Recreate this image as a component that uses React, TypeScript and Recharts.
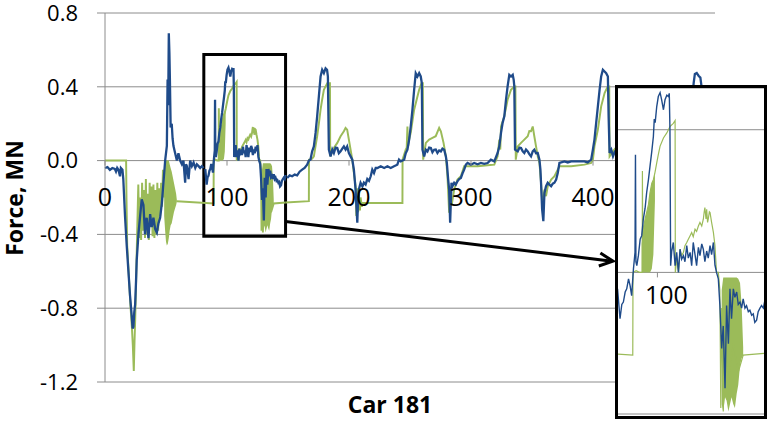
import { Area, CartesianGrid, ComposedChart, Line, ReferenceArea, ReferenceLine, XAxis, YAxis } from "recharts"

type Pt = [number, number]

// Car 181 – force (MN) against position
const blueRunIn: Pt[] = [
  [0, -0.04], [2, -0.035], [4, -0.05], [6, -0.04], [8, -0.045], [9, -0.06], [10, -0.04], [11, -0.05],
  [12.3, -0.085], [13, -0.04], [14.3, -0.05], [15, -0.1], [16.4, -0.3], [17.8, -0.46], [19.2, -0.6],
  [20.5, -0.73], [21.9, -0.84], [22.6, -0.91], [23.3, -0.9], [24, -0.82], [24.7, -0.78], [25.4, -0.66],
  [26, -0.54], [27.4, -0.4], [28.8, -0.3], [30.1, -0.21], [31.5, -0.24], [32.8, -0.4], [33.5, -0.33],
  [34.2, -0.31], [35.6, -0.42], [37, -0.29], [38.3, -0.36], [39.7, -0.31], [41.1, -0.37], [42.5, -0.39],
  [43.8, -0.34], [45.2, -0.31], [46.6, -0.23], [47.9, -0.12], [49.3, 0], [50.7, 0.08], [51.3, 0.44],
  [51.8, 0.3], [52.3, 0.69], [52.8, 0.58], [53.2, 0.44], [53.8, 0.18], [54.7, 0.2], [55.4, 0.12],
  [56.1, 0.08], [57.5, 0.04], [58.9, 0], [60.2, 0.04], [61.6, 0], [63, -0.02], [64.3, 0], [65.7, -0.12],
  [66.4, -0.02], [67.1, -0.03], [68.5, -0.1], [69.8, 0], [71.2, -0.03], [72.6, -0.01], [74, -0.04],
  [75.3, -0.02], [76.7, -0.03], [78, -0.04], [79.4, -0.03], [80.8, -0.04],
]

// the boxed stretch, read from the enlarged view
const blueBox: Pt[] = [
  [82.2, -0.046], [83.3, -0.13], [84.1, -0.09], [84.8, -0.083], [85.6, -0.055], [86.3, -0.046],
  [87.1, -0.018], [87.8, -0.037], [88.5, -0.065], [89.3, 0.01], [90.0, 0.056], [90.2, 0.33], [90.4, 0.03],
  [90.8, 0.019], [91.5, 0.047], [92.3, 0.093], [93.0, 0.103], [93.7, 0.149], [94.5, 0.18], [95.2, 0.224],
  [96.0, 0.26], [96.7, 0.298], [97.5, 0.34], [98.2, 0.381], [98.6, 0.43], [99.0, 0.42], [99.7, 0.465],
  [100.4, 0.493], [101.2, 0.504], [101.9, 0.484], [102.7, 0.456], [103.4, 0.484], [104.2, 0.497],
  [104.9, 0.493], [105.3, 0.502], [105.6, 0.4], [105.9, 0.019],
  [106.4, 0.06], [107.1, 0.084], [107.9, 0.019], [108.6, 0.056], [109.4, 0], [110.1, 0.065], [110.8, 0.037],
  [111.6, 0.047], [112.3, 0.03], [113.1, 0.075], [113.8, 0.04], [114.6, 0.056], [115.3, 0.019], [116.0, 0.084],
  [116.8, 0.05], [117.5, 0.019], [118.3, 0.07], [119.0, 0.047], [119.8, 0.08], [120.5, 0.065], [121.2, 0.03],
  [122.0, 0.06], [122.7, 0.04], [123.5, 0.075], [124.2, 0.05], [125.0, 0.084], [125.7, 0.02], [126.4, 0],
  [127.2, -0.018], [127.9, -0.093], [128.7, -0.213], [129.4, -0.15], [130.2, -0.325], [130.9, -0.093],
  [131.7, -0.2], [132.4, -0.046], [133.1, -0.13], [133.9, -0.046], [134.6, -0.07], [135.4, -0.055],
  [136.1, -0.09], [136.9, -0.083], [137.6, -0.1], [138.3, -0.074], [139.1, -0.1], [139.8, -0.093],
  [140.6, -0.11], [141.3, -0.106], [142.1, -0.12], [142.8, -0.116], [143.5, -0.14], [144.3, -0.134],
  [145.0, -0.11], [145.8, -0.1], [146.5, -0.093], [147.3, -0.1], [148.0, -0.078],
]

const blueCycles: Pt[] = [
  [149.3, -0.094], [151.4, -0.08], [153.4, -0.085], [155.5, -0.076], [157.5, -0.08], [159.5, -0.06],
  [161.6, -0.049], [163.6, -0.04], [165.7, -0.022], [167.1, 0], [168.4, 0.005], [169.8, 0.05], [171.2, 0.077],
  [172.6, 0.15], [173.9, 0.24], [175.3, 0.348], [176.7, 0.456], [178, 0.492], [179.4, 0.474], [180.8, 0.5],
  [182, 0.492], [182.7, 0.456], [183.5, 0.059], [184.9, 0.023], [186.3, 0.06], [187.6, 0.041], [189, 0.07],
  [190.4, 0.068], [191.7, 0.04], [193.1, 0.05], [194.5, 0.065], [195.8, 0.077], [197.2, 0.06], [198.5, 0.077],
  [199.9, 0.041], [201.3, 0.023], [202.7, 0.005], [204, -0.049], [205.4, -0.157], [206.8, -0.337],
  [207.5, -0.2], [208.1, -0.157], [209.5, -0.12], [211, -0.14], [212.2, -0.12], [213.6, -0.13], [215, -0.1],
  [216.4, -0.11], [217.8, -0.085], [219.1, -0.049], [220.5, -0.067], [221.9, -0.04], [223.3, -0.04],
  [226, -0.031], [228.8, -0.04], [231.5, -0.031], [234.2, -0.04], [236.9, -0.031], [239.6, -0.022],
  [241, 0.005], [242.4, -0.004], [245.2, 0.005], [246.5, 0.04], [247.9, 0.059], [249.3, 0.114],
  [250.6, 0.185], [252, 0.276], [253.4, 0.384], [254.7, 0.474], [256.1, 0.456], [257.5, 0.474],
  [258.8, 0.456], [259.7, 0.42], [260.2, 0.059], [261.6, 0.023], [263, 0.059], [264.3, 0.05], [265.7, 0.07],
  [267.1, 0.068], [268.4, 0.045], [269.8, 0.059], [271.1, 0.06], [272.5, 0.041], [273.9, 0.055],
  [275.3, 0.05], [276.6, 0.065], [278, 0.059], [279.4, 0.023], [280.2, -0.013], [281.3, -0.103],
  [282.1, -0.157], [282.9, -0.337], [284, -0.12], [284.8, -0.139], [286.2, -0.12], [287.5, -0.13],
  [288.9, -0.112], [290.3, -0.1], [291.7, -0.094], [293, -0.07], [294.4, -0.049], [295.8, -0.022],
  [297.2, -0.013], [299.9, -0.022], [302.6, -0.013], [305.4, -0.02], [308.1, -0.013], [310.8, -0.018],
  [313.6, -0.013], [316.3, 0.005], [319.1, -0.004], [321.8, 0.041], [323.2, 0.077], [324.6, 0.15],
  [325.9, 0.204], [327.3, 0.24], [328.7, 0.33], [330, 0.402], [331.4, 0.465], [332.8, 0.456], [334.2, 0.465],
  [335, 0.438], [335.5, 0.402], [336.1, 0.059], [338.3, 0.05], [339.7, 0.07], [341, 0.068], [342.4, 0.05],
  [343.7, 0.041], [345.1, 0.06], [346.5, 0.05], [347.8, 0.035], [349.2, 0.023], [350.6, 0.05], [351.9, 0.059],
  [353.3, 0.04], [354.7, 0.041], [356.1, 0.005], [356.9, -0.049], [357.4, -0.12], [358.3, -0.265],
  [359.3, -0.328], [360.2, -0.175], [361.5, -0.139], [362.9, -0.12], [364.3, -0.13], [365.7, -0.139],
  [367, -0.125], [368.4, -0.12], [369.8, -0.103], [371.1, -0.067], [372.5, -0.013], [376.6, -0.004],
  [379.3, -0.01], [382.1, -0.004], [387.6, -0.004], [393, -0.004], [395.7, -0.01], [398.5, 0.005],
  [399.9, 0.059], [401.2, 0.114], [402.6, 0.204], [404, 0.294], [405.4, 0.384], [406.7, 0.456],
  [408.1, 0.492], [409.5, 0.483], [410.8, 0.474], [412.2, 0.456], [412.8, 0.24], [413.6, 0.041],
  [415, 0.059], [416.4, 0.023], [418, 0.05], [421, 0.06], [424, 0.04], [427, 0.07], [430, 0.05], [432, 0],
  [433.5, -0.3], [435, -0.14], [438, -0.12], [442, -0.1], [446, -0.02], [450, 0], [460, 0], [470, 0],
  [476, 0.02], [478, 0.1], [481, 0.3], [482.5, 0.42], [483.5, 0.47], [485, 0.475], [486.5, 0.46],
  [488, 0.45], [489, 0.4], [489.5, 0.05], [492, 0.05], [496, 0.06], [500, 0.04],
]

const greenRunIn: Pt[] = [
  [0, 0], [17.3, 0], [17.6, -0.2], [18.2, -0.46], [19.5, -0.62], [20.8, -0.78], [22, -0.9], [22.8, -1.0],
  [23.6, -1.14], [24.2, -0.98], [24.8, -0.85], [25.6, -0.62], [26.5, -0.35], [27.3, -0.13], [28.1, -0.42],
  [28.9, -0.2], [29.6, -0.43], [30.4, -0.12], [31.2, -0.38], [32, -0.16], [32.8, -0.42], [33.5, -0.1],
  [34.3, -0.4], [35.1, -0.18], [35.9, -0.43], [36.6, -0.12], [37.4, -0.36], [38.2, -0.14], [39, -0.41],
  [39.7, -0.13], [40.5, -0.42], [41.3, -0.16], [42.1, -0.4], [42.9, -0.12], [43.6, -0.38], [44.4, -0.15],
  [45.2, -0.3], [46, -0.12], [46.8, -0.25], [47.5, -0.05], [48.5, -0.2],
]

const greenBox: Pt[] = [
  [59, -0.22], [89, -0.232], [89.1, 0], [90.5, 0.005], [92, 0], [93.2, 0], [93.3, 0.284], [93.5, 0.02],
  [93.7, 0.12], [94.5, 0.15], [95.2, 0.168], [96, 0.19], [96.7, 0.224], [97.5, 0.25], [98.2, 0.26],
  [98.9, 0.28], [99.7, 0.307], [100.4, 0.33], [101.2, 0.354], [102.7, 0.377], [104.2, 0.391],
  [105.6, 0.409], [107.1, 0.418], [107.9, 0.426], [108.0, 0], [108.6, 0.037], [109.4, 0], [110.1, 0.065],
  [110.8, 0.047], [111.6, 0.056], [112.3, 0.075], [113.1, 0.084], [113.8, 0.093], [114.6, 0.103],
  [115.3, 0.112], [116, 0.1], [116.8, 0.121], [117.5, 0.115], [118.3, 0.13], [119, 0.14], [119.8, 0.13],
  [120.5, 0.149], [120.9, 0.17], [121.2, 0.182], [121.7, 0.15], [122, 0.177], [122.4, 0.14], [122.7, 0.149],
  [123.2, 0.17], [123.5, 0.168], [124.2, 0.14], [125, 0.112], [125.7, 0.075], [126.4, 0], [127.2, 0],
  [127.9, -0.05], [128.3, -0.38], [128.7, -0.1], [129.4, -0.39], [130.2, -0.2], [131.7, -0.3],
  [133.9, -0.2], [136.1, -0.28], [138.3, -0.232], [148, -0.227],
]

const greenCycles: Pt[] = [
  [148, -0.227], [167.1, -0.22], [167.2, 0.005], [169.8, 0.01], [171.2, 0.023], [172.6, 0.08], [173.9, 0.132],
  [175.3, 0.2], [176.7, 0.276], [178, 0.33], [179.4, 0.384], [182.2, 0.42], [184.4, 0.42], [184.6, 0.023],
  [187.6, 0.068], [190.4, 0.096], [193.1, 0.132], [195.8, 0.159], [197.2, 0.177], [198.5, 0.168],
  [199.9, 0.114], [201.3, 0.059], [202.7, 0.005], [204, -0.067], [205.4, -0.14], [206, -0.3], [206.8, -0.15],
  [207.5, -0.28], [208.1, -0.18], [209, -0.27], [209.5, -0.2], [210.5, -0.25], [211.5, -0.23], [243.8, -0.23],
  [243.9, 0.005], [246.5, 0.059], [247.3, 0.07], [247.9, 0.185], [248.5, 0.08], [249.3, 0.114], [250.6, 0.15],
  [253.4, 0.276], [256.1, 0.348], [257.5, 0.384], [259.4, 0.42], [260.5, 0.42], [260.8, 0.005], [263, 0.096],
  [265.7, 0.114], [268.4, 0.123], [271.1, 0.132], [273.9, 0.177], [275.3, 0.159], [277.5, 0.096],
  [279.4, 0.023], [280.7, -0.085], [282.1, -0.283], [283.5, -0.193], [284.2, -0.24], [286.2, -0.157],
  [288.9, -0.103], [291.7, -0.085], [294.4, -0.031], [297.2, -0.031], [305.4, -0.031], [313.6, -0.025],
  [319.1, -0.022], [321.8, 0.023], [323.2, 0.114], [324, 0.06], [324.6, 0.185], [327.3, 0.24], [330, 0.33],
  [332.8, 0.384], [335.5, 0.402], [336.4, 0.402], [336.7, 0.005], [338.3, 0.077], [341, 0.096],
  [343.7, 0.114], [346.5, 0.132], [347.8, 0.16], [349.2, 0.159], [350.6, 0.185], [351.9, 0.132],
  [353.3, 0.077], [354.7, 0.023], [356.1, -0.013], [357.4, -0.12], [358.8, -0.265], [360.2, -0.157],
  [361.5, -0.193], [362.9, -0.139], [365.7, -0.103], [368.4, -0.085], [371.1, -0.049], [372.5, -0.031],
  [382.1, -0.031], [393, -0.022], [398.5, -0.013], [399.9, 0.005], [401.2, 0.077], [404, 0.168],
  [406.7, 0.294], [409.5, 0.366], [410.8, 0.384], [412.2, 0.402], [413.3, 0.402], [413.6, 0.023],
  [416.4, 0.05], [420, 0.08], [425, 0.12], [430, 0.16], [432, 0], [433.5, -0.28], [436, -0.15], [440, -0.1],
  [446, -0.03], [470, -0.02], [476, 0], [480, 0.2], [484, 0.33], [488, 0.37], [489.5, 0.37], [490, 0.02],
  [495, 0.06], [500, 0.1],
]

// where the green trace chatters so fast it reads as a filled band: [x, low, high]
const bandRunIn = [
  [48.5, -0.3, -0.05], [49.3, -0.38, 0], [50, -0.44, 0], [50.7, -0.46, 0], [51.5, -0.45, 0], [52.3, -0.42, 0],
  [53, -0.38, -0.02], [53.8, -0.35, -0.04], [54.7, -0.34, -0.06], [55.6, -0.31, -0.09], [56.5, -0.28, -0.12],
  [57.4, -0.26, -0.15], [58.3, -0.24, -0.18], [59, -0.22, -0.22],
]
const bandClimb = [
  [93.0, 0, 0.08], [93.7, 0, 0.12], [94.5, 0, 0.15], [95.2, 0, 0.168], [96.0, 0, 0.19], [96.7, 0, 0.224],
  [97.5, 0.01, 0.25], [98.2, 0.05, 0.26], [98.9, 0.2, 0.28],
]
const bandDip = [
  [128.7, -0.37, -0.05], [129.4, -0.39, -0.014], [130.2, -0.35, -0.014], [130.9, -0.36, -0.014],
  [131.7, -0.39, -0.014], [132.4, -0.37, -0.014], [133.1, -0.35, -0.014], [133.9, -0.37, -0.014],
  [134.6, -0.38, -0.014], [135.4, -0.34, -0.014], [136.1, -0.316, -0.018], [136.9, -0.26, -0.03],
  [137.6, -0.241, -0.09], [138.3, -0.232, -0.21],
]

const yTicks = [-1.2, -0.8, -0.4, 0, 0.4, 0.8]
const xTicks = [0, 100, 200, 300, 400, 500]
const insetXTicks = [100]
const insetYTicks = [0, 0.4]

const BLUE = "#1F4B8A"
const GREEN = "#9BBB59"
const GRID = "#8C8C8C"
const FONT = "'Open Sans', 'Liberation Sans', sans-serif"

const W = 772
const H = 423
const X_AXIS_H = 2
const MARGIN = { top: 13, right: 57, bottom: 41 - X_AXIS_H, left: 0 }
const Y_DOMAIN: [number, number] = [-1.2, 0.8]
const PLOT_H = H - MARGIN.top - MARGIN.bottom - X_AXIS_H
const ZERO_Y = MARGIN.top + (PLOT_H * Y_DOMAIN[1]) / (Y_DOMAIN[1] - Y_DOMAIN[0])

const INSET_H = 328
const INSET_Y: [number, number] = [-0.397, 0.517]
const INSET_ZERO = ((INSET_H - X_AXIS_H) * INSET_Y[1]) / (INSET_Y[1] - INSET_Y[0])

const rows = (pts: Pt[]) => pts.map(([x, f]) => ({ x, f }))
const band = (pts: number[][]) => pts.map(([x, lo, hi]) => ({ x, range: [lo, hi] }))

function series(width: number) {
  const bands = [bandRunIn, bandClimb, bandDip].map((b, i) => (
    <Area
      key={`band${i}`}
      data={band(b)}
      dataKey="range"
      type="linear"
      stroke="none"
      fill={GREEN}
      fillOpacity={1}
      dot={false}
      activeDot={false}
      isAnimationActive={false}
    />
  ))
  const greens = [greenRunIn, greenBox, greenCycles].map((g, i) => (
    <Line
      key={`green${i}`}
      data={rows(g)}
      dataKey="f"
      type="linear"
      stroke={GREEN}
      strokeWidth={width * 0.85}
      dot={false}
      activeDot={false}
      isAnimationActive={false}
    />
  ))
  const blues = [blueRunIn, blueBox, blueCycles].map((b, i) => (
    <Line
      key={`blue${i}`}
      data={rows(b)}
      dataKey="f"
      type="linear"
      stroke={BLUE}
      strokeWidth={width}
      dot={false}
      activeDot={false}
      isAnimationActive={false}
    />
  ))
  return [...bands, ...greens, ...blues]
}

// x labels sit just under the zero line, not at the foot of the plot
function ZeroTick(props: any) {
  const { x, payload, zeroY, dy } = props
  const shift = props.shift || 0
  return (
    <g>
      <line x1={x} x2={x} y1={zeroY} y2={zeroY + 5} stroke={GRID} />
      <text x={x + shift} y={zeroY + dy} textAnchor="middle" fontSize={25} fontFamily={FONT} fill="#000">
        {payload.value}
      </text>
    </g>
  )
}

function Arrow(props: any) {
  const { x1, y1, x2, y2 } = props
  const a = Math.atan2(y2 - y1, x2 - x1)
  const len = 15
  const wing = 0.45
  const p1 = `${x2 - len * Math.cos(a - wing)},${y2 - len * Math.sin(a - wing)}`
  const p2 = `${x2 - len * Math.cos(a + wing)},${y2 - len * Math.sin(a + wing)}`
  return (
    <g>
      <line x1={x1} y1={y1} x2={x2 - 1} y2={y2} stroke="#000" strokeWidth={3} />
      <polyline points={`${p1} ${x2},${y2} ${p2}`} fill="none" stroke="#000" strokeWidth={3} />
    </g>
  )
}

function AxisTitle({ x, y, angle, text }: { x: number; y: number; angle?: number; text: string }) {
  return (
    <text
      x={x}
      y={y}
      textAnchor="middle"
      transform={angle ? `rotate(${angle}, ${x}, ${y})` : undefined}
      fontFamily={FONT}
      fontSize={23}
      fontWeight={700}
      fill="#000"
    >
      {text}
    </text>
  )
}

export default function App() {
  return (
    <div style={{ position: "absolute", left: 0, top: 0, width: W, height: H, background: "#fff" }}>
      <ComposedChart width={W} height={H} margin={MARGIN}>
        <CartesianGrid vertical={false} stroke={GRID} />
        <XAxis
          type="number"
          dataKey="x"
          domain={[0, 500]}
          ticks={xTicks}
          height={X_AXIS_H}
          interval={0}
          axisLine={false}
          tickLine={false}
          tick={(p: any) => <ZeroTick {...p} zeroY={ZERO_Y} dy={45} />}
          label={() => <AxisTitle x={390} y={413} text="Car 181" />}
        />
        <YAxis
          type="number"
          domain={Y_DOMAIN}
          ticks={yTicks}
          width={105}
          stroke={GRID}
          tickSize={8}
          tickMargin={19}
          tickFormatter={(v: number) => v.toFixed(1)}
          tick={{ fontSize: 22, fill: "#000", fontFamily: FONT }}
          label={() => <AxisTitle x={23} y={198} angle={-90} text="Force, MN" />}
        />
        {series(2.3)}
        <ReferenceArea x1={81} x2={148} y1={-0.41} y2={0.575} fill="none" fillOpacity={0} stroke="#000" strokeWidth={3} />
        <ReferenceLine
          segment={[
            { x: 148, y: -0.33 },
            { x: 416.4, y: -0.545 },
          ]}
          shape={(p: any) => <Arrow {...p} />}
        />
      </ComposedChart>

      <div
        style={{
          position: "absolute",
          left: 615,
          top: 85,
          width: 152,
          height: 334,
          border: "3px solid #000",
          boxSizing: "border-box",
          background: "#fff",
          overflow: "hidden",
        }}
      >
        <ComposedChart width={146} height={INSET_H} margin={{ top: 0, right: 0, bottom: 0, left: 0 }}>
          <CartesianGrid vertical={false} stroke={GRID} />
          <XAxis
            type="number"
            dataKey="x"
            domain={[82.4, 147.6]}
            allowDataOverflow
            ticks={insetXTicks}
            height={X_AXIS_H}
            interval={0}
            axisLine={false}
            tickLine={false}
            tick={(p: any) => <ZeroTick {...p} zeroY={INSET_ZERO} dy={32} shift={9} />}
          />
          <YAxis type="number" domain={INSET_Y} allowDataOverflow ticks={insetYTicks} hide />
          {series(1.4)}
        </ComposedChart>
      </div>
    </div>
  )
}
